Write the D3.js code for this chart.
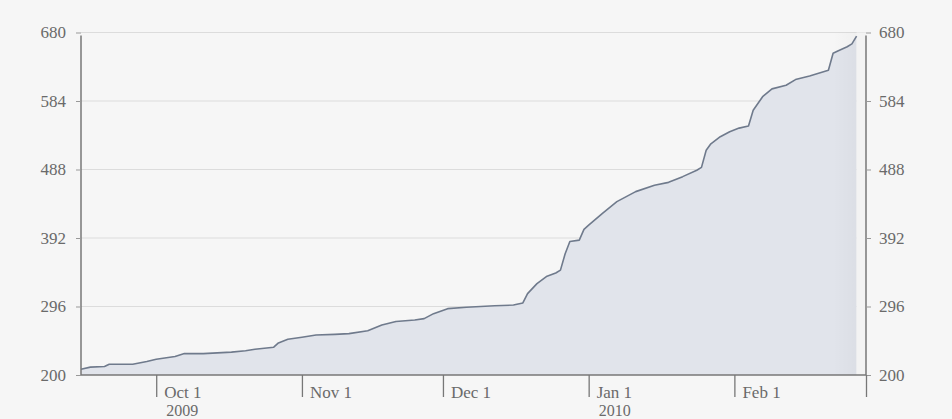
<!DOCTYPE html>
<html>
<head>
<meta charset="utf-8">
<script src="https://cdn.jsdelivr.net/npm/d3@7"></script>
<style>
  html, body { margin: 0; padding: 0; background: #f6f6f6; }
  svg { display: block; }
  text { font-family: "Liberation Serif", "Times New Roman", serif; fill: #6a6a6a; }
</style>
</head>
<body>
<svg id="chart" width="952" height="419"></svg>
<script>
const dates = ["2009-09-15","2009-09-17","2009-09-20","2009-09-21","2009-09-26","2009-09-29","2009-10-01","2009-10-05","2009-10-07","2009-10-11","2009-10-17","2009-10-20","2009-10-22","2009-10-26","2009-10-27","2009-10-29","2009-11-01","2009-11-04","2009-11-08","2009-11-11","2009-11-15","2009-11-18","2009-11-21","2009-11-25","2009-11-27","2009-11-29","2009-12-02","2009-12-06","2009-12-12","2009-12-16","2009-12-18","2009-12-19","2009-12-21","2009-12-23","2009-12-25","2009-12-26","2009-12-27","2009-12-28","2009-12-30","2009-12-31","2010-01-01","2010-01-04","2010-01-07","2010-01-11","2010-01-15","2010-01-18","2010-01-21","2010-01-24","2010-01-25","2010-01-26","2010-01-27","2010-01-29","2010-01-31","2010-02-02","2010-02-04","2010-02-05","2010-02-07","2010-02-09","2010-02-12","2010-02-14","2010-02-17","2010-02-21","2010-02-22","2010-02-23","2010-02-25","2010-02-26","2010-02-27"];
const values = [208,211,212,215,215,219,222,226,230,230,232,234,236,239,245,250,253,256,257,258,262,270,275,277,279,286,293,295,297,298,301,314,328,338,343,347,370,387,389,404,410,427,443,457,466,470,478,487,491,515,524,534,541,546,549,571,590,601,606,614,619,627,651,654,660,664,675];
const yTicks = [200, 296, 392, 488, 584, 680];
const xTickDates = ["2009-10-01","2009-11-01","2009-12-01","2010-01-01","2010-02-01"];
const xTickLabels = ["Oct 1","Nov 1","Dec 1","Jan 1","Feb 1"];
const yearLabels = ["2009","","","2010",""];
const xDomain = ["2009-09-15","2010-03-01"];

(function () {
const parse = d3.utcParse("%Y-%m-%d");
const data = dates.map((d, i) => ({ date: parse(d), value: values[i] }));

const svg = d3.select("#chart");
const pL = 81, pR = 866, pT = 32.5, pB = 375;

const x = d3.scaleUtc().domain(xDomain.map(parse)).range([pL, pR]);
const y = d3.scaleLinear().domain([200, 680]).range([pB, pT]);

// gridlines
svg.append("g").selectAll("line").data(yTicks.slice(1)).join("line")
  .attr("x1", pL).attr("x2", pR)
  .attr("y1", d => y(d)).attr("y2", d => y(d))
  .attr("stroke", "#dcdcdc").attr("stroke-width", 1);

// gradient band near right end
const defs = svg.append("defs");
const grad = defs.append("linearGradient").attr("id", "fade").attr("x1", "0").attr("x2", "1").attr("y1", "0").attr("y2", "0");
grad.append("stop").attr("offset", "0%").attr("stop-color", "#000").attr("stop-opacity", 0);
grad.append("stop").attr("offset", "100%").attr("stop-color", "#000").attr("stop-opacity", 0.025);

// area
const area = d3.area().x(d => x(d.date)).y0(pB).y1(d => y(d.value));
svg.append("path").datum(data).attr("d", area).attr("fill", "#e1e4eb");

const lastX = x(data[data.length - 1].date);
svg.append("rect").attr("x", lastX - 24).attr("y", pT).attr("width", 24).attr("height", pB - pT)
  .attr("fill", "url(#fade)");
svg.append("rect").attr("x", lastX).attr("y", pT).attr("width", pR - lastX).attr("height", pB - pT)
  .attr("fill", "#f3f3f3");

// line
const line = d3.line().x(d => x(d.date)).y(d => y(d.value));
svg.append("path").datum(data).attr("d", line)
  .attr("fill", "none").attr("stroke", "#6f7a8c").attr("stroke-width", 1.6).attr("stroke-linejoin", "round");

// left axis
const gl = svg.append("g").attr("transform", `translate(${pL},0)`)
  .call(d3.axisLeft(y).tickValues(yTicks).tickSize(5).tickPadding(10).tickFormat(d3.format("d")));
gl.select(".domain").attr("d", `M0,${y(680) + 3}V${pB}`).attr("stroke", "#777").attr("stroke-width", 1.5);
gl.selectAll(".tick line").attr("stroke", "#999");
gl.selectAll(".tick text").style("font-size", "17px").attr("font-family", null).style("fill", "#6a6a6a");

// right axis
const gr = svg.append("g").attr("transform", `translate(${pR},0)`)
  .call(d3.axisRight(y).tickValues(yTicks).tickSize(5).tickPadding(8).tickFormat(d3.format("d")));
gr.select(".domain").attr("d", `M0,${y(680) + 3}V${pB}`).attr("stroke", "#777").attr("stroke-width", 1.5);
gr.selectAll(".tick line").attr("stroke", "#999");
gr.selectAll(".tick text").style("font-size", "17px").attr("font-family", null).style("fill", "#6a6a6a");

// bottom axis
const tickDates = xTickDates.map(parse).concat([parse(xDomain[1])]);
const gb = svg.append("g").attr("transform", `translate(0,${pB})`)
  .call(d3.axisBottom(x).tickValues(tickDates).tickSize(22).tickFormat(() => ""));
gb.select(".domain").attr("d", `M${pL},0H${pR}`).attr("stroke", "#777").attr("stroke-width", 1.5);
gb.selectAll(".tick line").attr("stroke", "#777").attr("stroke-width", 1.3);

const lab = svg.append("g");
lab.selectAll("text.m").data(xTickDates).join("text").attr("class", "m")
  .attr("x", d => x(parse(d)) + 8).attr("y", 398)
  .style("font-size", "17px").text((d, i) => xTickLabels[i]);
lab.selectAll("text.yr").data(xTickDates).join("text").attr("class", "yr")
  .attr("x", d => x(parse(d)) + 10).attr("y", 416)
  .style("font-size", "16px").text((d, i) => yearLabels[i]);
})();
</script>
</body>
</html>
